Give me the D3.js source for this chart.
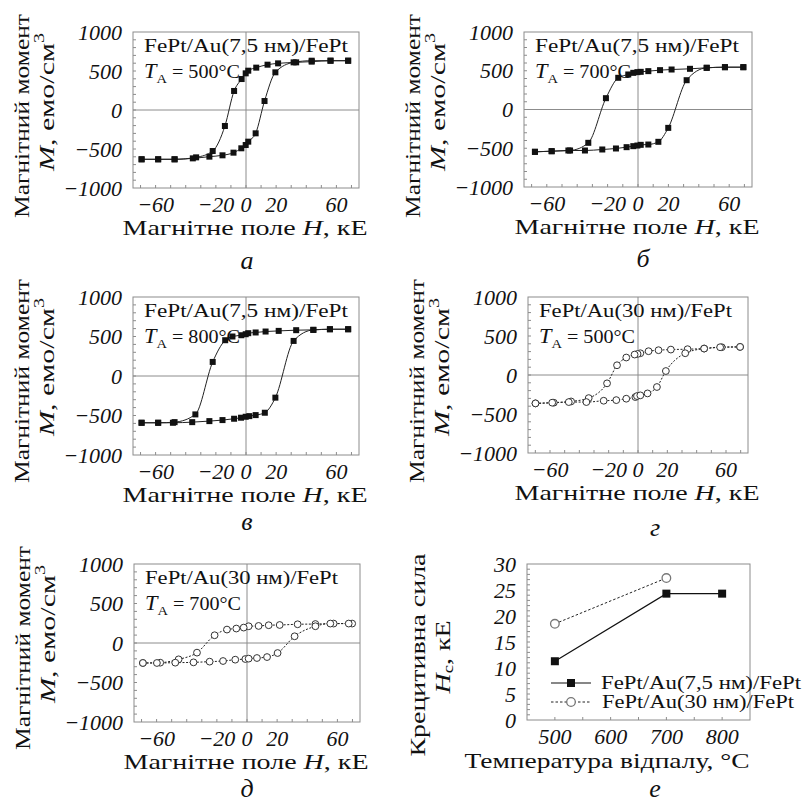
<!DOCTYPE html>
<html>
<head>
<meta charset="utf-8">
<script src="https://cdn.jsdelivr.net/npm/d3@7"></script>
<style>
  body { margin: 0; background: #fff; }
  svg text { font-family: 'Liberation Serif', 'Times New Roman', serif; fill: #111; }
  .tick-label { font-style: italic; font-size: 22px; }
</style>
</head>
<body>
<svg id="viewBox" width="804" height="804"></svg>
<script>
'use strict'

// hysteresis loops: [H (kOe), M (emu/cm3)], descending and ascending branches
const loopA_down = [[67.8,632],[56.1,632],[43.6,620],[33.3,611],[21.3,598],[14.3,581],[6.8,543],[1.5,504],[-0.2,470],[-2.9,397],[-7.9,244],[-14.0,-205],[-22.1,-526],[-33.1,-607],[-47.4,-632],[-58.3,-632],[-69.3,-632]]
const loopA_up = [[-69.3,-632],[-58.3,-632],[-47.4,-632],[-35.3,-620],[-24.3,-598],[-15.6,-581],[-8.3,-547],[-3.1,-491],[-0.2,-449],[1.5,-406],[6.4,-299],[12.3,115],[19.5,483],[31.6,611],[43.6,632],[56.1,632],[67.8,632]]

const loopB_down = [[69.3,546],[57.2,546],[45.2,538],[34.2,525],[22.1,516],[14.5,508],[6.8,495],[1.8,486],[-0.4,482],[-3.1,473],[-6.4,452],[-13.0,409],[-21.1,146],[-32.7,-430],[-44.7,-529],[-56.8,-538],[-67.8,-546]]
const loopB_up = [[-67.8,-546],[-56.8,-538],[-45.8,-529],[-34.9,-529],[-23.5,-516],[-14.5,-503],[-7.5,-486],[-3.1,-473],[-0.4,-465],[1.8,-456],[6.8,-452],[13.4,-417],[19.9,-237],[32.0,378],[45.2,538],[57.2,546],[69.3,546]]

const loopC_down = [[67.8,592],[55.7,592],[44.7,584],[33.3,580],[21.7,571],[13.0,563],[6.4,551],[1.5,542],[-0.2,529],[-3.1,516],[-9.0,500],[-13.8,453],[-22.1,178],[-33.6,-486],[-47.4,-584],[-58.3,-592],[-69.3,-592]]
const loopC_up = [[-69.3,-592],[-58.3,-592],[-48.5,-592],[-35.7,-584],[-24.3,-571],[-15.6,-558],[-7.9,-541],[-3.3,-528],[-0.2,-516],[2.2,-508],[6.4,-495],[12.5,-465],[19.5,-274],[31.6,444],[44.7,584],[55.7,592],[67.8,592]]

const loopD_down = [[69.6,360],[57.1,356],[45.1,339],[33.8,331],[22.4,326],[14.0,318],[7.2,305],[1.6,279],[-0.3,270],[-2.3,262],[-8.0,224],[-14.3,125],[-21.1,-107],[-33.6,-296],[-45.6,-339],[-57.4,-355],[-69.9,-364]]
const loopD_up = [[-69.9,-364],[-58.5,-355],[-47.2,-347],[-35.2,-347],[-23.4,-330],[-14.8,-322],[-8.0,-304],[-1.8,-283],[-0.7,-270],[1.6,-261],[6.5,-236],[12.9,-154],[19.0,51],[32.2,279],[45.1,339],[56.0,356],[69.6,360]]

const loopE_down = [[69.8,246],[57.5,246],[45.4,240],[33.6,237],[21.7,228],[14.4,225],[7.7,216],[1.1,212],[-2.2,195],[-7.1,183],[-13.3,170],[-21.5,98],[-33.2,-122],[-45.4,-207],[-57.6,-249],[-69.1,-253]]
const loopE_up = [[-69.1,-253],[-59.8,-253],[-47.6,-249],[-35.5,-245],[-24.8,-236],[-15.9,-228],[-7.8,-211],[-1.1,-203],[1.1,-198],[6.6,-190],[13.3,-178],[20.3,-127],[31.6,85],[45.4,212],[55.3,246],[67.5,246]]

// coercivity vs annealing temperature
const annealTemps = [500, 700, 800]
const hc75 = [11.3, 24.3, 24.3]
const hc30 = [18.5, 27.3]

const hTicks = [-60, -20, 0, 20, 60]
const mTicks = [-1000, -500, 0, 500, 1000]
const tTicks = [500, 600, 700, 800]
const hcTicks = [0, 5, 10, 15, 20, 25, 30]

const svg = d3.select("#viewBox")
svg.append("rect").attr("width", 804).attr("height", 804).attr("fill", "#fff")

const frameColor = "#8c8c8c"

// stretch a text to the width measured on the reference
const fit = (sel, len) => sel.attr("textLength", len).attr("lengthAdjust", "spacingAndGlyphs")

const drawFrame = (g, w, h) => {
    g.append("rect")
        .attr("width", w).attr("height", h)
        .attr("fill", "none")
        .attr("stroke", frameColor)
        .attr("stroke-width", 1)
}

const minorTicks = (g, xs, ys, xVals, yVals, h) => {
    g.append("g").selectAll("line")
        .data(xVals)
        .join("line")
        .attr("x1", d => xs(d)).attr("x2", d => xs(d))
        .attr("y1", h).attr("y2", h - 3)
        .attr("stroke", frameColor)
    g.append("g").selectAll("line")
        .data(yVals)
        .join("line")
        .attr("x1", 0).attr("x2", 3)
        .attr("y1", d => ys(d)).attr("y2", d => ys(d))
        .attr("stroke", frameColor)
}

const yTitle = (x, y, line1, line2) => {
    svg.append("text")
        .attr("transform", `translate(${x},${y}) rotate(-90)`)
        .attr("text-anchor", "middle")
        .attr("dominant-baseline", "central")
        .attr("font-size", 21)
        .text(line1)
        .call(fit, 204)
    const t = svg.append("text")
        .attr("transform", `translate(${x + 25},${y - 14}) rotate(-90)`)
        .attr("text-anchor", "middle")
        .attr("dominant-baseline", "central")
        .attr("font-size", 21)
    line2(t)
    fit(t, 138)
}

const panelLetter = (x, y, s) => {
    svg.append("text")
        .attr("x", x).attr("y", y)
        .attr("text-anchor", "middle")
        .attr("dominant-baseline", "central")
        .attr("font-style", "italic")
        .attr("font-size", 26)
        .text(s)
}

const loopPanel = (p) => {
    const g = svg.append("g").attr("transform", `translate(${p.x},${p.y})`)
    const xs = d3.scaleLinear().domain([-75, 75]).range([0, p.w])
    const ys = d3.scaleLinear().domain([-1000, 1000]).range([p.h, 0])

    drawFrame(g, p.w, p.h)
    g.append("line")
        .attr("x1", xs(0)).attr("x2", xs(0)).attr("y1", 0).attr("y2", p.h)
        .attr("stroke", frameColor)
    g.append("line")
        .attr("x1", 0).attr("x2", p.w).attr("y1", ys(0)).attr("y2", ys(0))
        .attr("stroke", frameColor)
    minorTicks(g, xs, ys, d3.range(-70, 71, 10), d3.range(-900, 901, 100), p.h)

    g.append("g").selectAll("text")
        .data(hTicks)
        .join("text")
        .attr("class", "tick-label")
        .attr("x", d => xs(d))
        .attr("y", p.h + 16)
        .attr("text-anchor", "middle")
        .attr("dominant-baseline", "central")
        .text(d => d3.format("")(d))
    g.append("g").selectAll("text")
        .data(mTicks)
        .join("text")
        .attr("class", "tick-label")
        .attr("x", -11)
        .attr("y", d => ys(d))
        .attr("text-anchor", "end")
        .attr("dominant-baseline", "central")
        .text(d => d3.format("")(d))

    const line = d3.line()
        .x(d => xs(d[0]))
        .y(d => ys(d[1]))
        .curve(d3.curveMonotoneX)

    ;[p.down, p.up].forEach(branch => {
        const sorted = branch.slice().sort((a, b) => a[0] - b[0])
        g.append("path")
            .datum(sorted)
            .attr("d", line)
            .attr("fill", "none")
            .attr("stroke", "#222")
            .attr("stroke-width", 1)
            .attr("stroke-dasharray", p.open ? "2,1.6" : null)
    })

    const pts = p.down.concat(p.up)
    if (p.open) {
        g.append("g").selectAll("circle")
            .data(pts)
            .join("circle")
            .attr("cx", d => xs(d[0]))
            .attr("cy", d => ys(d[1]))
            .attr("r", 3.4)
            .attr("fill", "#fff")
            .attr("stroke", "#333")
            .attr("stroke-width", 1)
    } else {
        g.append("g").selectAll("rect")
            .data(pts)
            .join("rect")
            .attr("x", d => xs(d[0]) - 3)
            .attr("y", d => ys(d[1]) - 3)
            .attr("width", 6)
            .attr("height", 6)
            .attr("fill", "#111")
    }

    g.append("text")
        .attr("x", 11).attr("y", 20)
        .attr("font-size", 18)
        .text(p.label)
        .call(fit, p.labelW)
    const ta = g.append("text")
        .attr("x", 11).attr("y", 46)
        .attr("font-size", 18)
    ta.append("tspan").attr("font-style", "italic").attr("font-size", 20).text("T")
    ta.append("tspan").attr("font-size", 13).attr("dy", 5).text("A")
    ta.append("tspan").attr("dy", -5).text(` = ${p.temp}°C`)
    fit(ta, 96)

    svg.append("text")
        .attr("x", p.x + p.w / 2 - 1)
        .attr("y", p.y + p.h + 40)
        .attr("text-anchor", "middle")
        .attr("dominant-baseline", "central")
        .attr("font-size", 21)
        .call(t => {
            t.append("tspan").text("Магнітне поле ")
            t.append("tspan").attr("font-style", "italic").text("H")
            t.append("tspan").text(", кЕ")
        })
        .call(fit, 245)

    yTitle(p.x - 111, p.y + 84, "Магнітний момент", t => {
        t.append("tspan").attr("font-style", "italic").text("M")
        t.append("tspan").text(", емо/см")
        t.append("tspan").attr("font-size", 14).attr("dy", -8).text("3")
    })
    panelLetter(p.letterX, p.letterY, p.letter)
}

const panels = [
    { x: 133, y: 32, w: 226, h: 156, down: loopA_down, up: loopA_up, open: false,
      label: "FePt/Au(7,5 нм)/FePt", labelW: 204, temp: "500", letter: "а", letterX: 247, letterY: 260 },
    { x: 524, y: 32, w: 228, h: 155, down: loopB_down, up: loopB_up, open: false,
      label: "FePt/Au(7,5 нм)/FePt", labelW: 204, temp: "700", letter: "б", letterX: 643, letterY: 258 },
    { x: 133, y: 297, w: 226, h: 158, down: loopC_down, up: loopC_up, open: false,
      label: "FePt/Au(7,5 нм)/FePt", labelW: 204, temp: "800", letter: "в", letterX: 247, letterY: 521 },
    { x: 528, y: 297, w: 220, h: 156, down: loopD_down, up: loopD_up, open: true,
      label: "FePt/Au(30 нм)/FePt", labelW: 193, temp: "500", letter: "г", letterX: 655, letterY: 527 },
    { x: 134, y: 564, w: 226, h: 158, down: loopE_down, up: loopE_up, open: true,
      label: "FePt/Au(30 нм)/FePt", labelW: 193, temp: "700", letter: "д", letterX: 247, letterY: 788 }
]
panels.forEach(loopPanel)

// panel е: coercivity
const hcPanel = () => {
    const p = { x: 527, y: 564, w: 223, h: 156 }
    const g = svg.append("g").attr("transform", `translate(${p.x},${p.y})`)
    const xs = d3.scaleLinear().domain([450, 850]).range([0, p.w])
    const ys = d3.scaleLinear().domain([0, 30]).range([p.h, 0])

    drawFrame(g, p.w, p.h)
    minorTicks(g, xs, ys, d3.range(500, 801, 50), d3.range(1, 30, 1), p.h)

    g.append("g").selectAll("text")
        .data(tTicks)
        .join("text")
        .attr("class", "tick-label")
        .attr("x", d => xs(d))
        .attr("y", p.h + 16)
        .attr("text-anchor", "middle")
        .attr("dominant-baseline", "central")
        .text(d => d)
    g.append("g").selectAll("text")
        .data(hcTicks)
        .join("text")
        .attr("class", "tick-label")
        .attr("x", -11)
        .attr("y", d => ys(d))
        .attr("text-anchor", "end")
        .attr("dominant-baseline", "central")
        .text(d => d)

    const s75 = annealTemps.map((t, i) => [t, hc75[i]])
    const s30 = hc30.map((v, i) => [annealTemps[i], v])
    const line = d3.line().x(d => xs(d[0])).y(d => ys(d[1]))

    g.append("path").datum(s75).attr("d", line)
        .attr("fill", "none").attr("stroke", "#111").attr("stroke-width", 1.2)
    g.append("path").datum(s30).attr("d", line)
        .attr("fill", "none").attr("stroke", "#222").attr("stroke-width", 1)
        .attr("stroke-dasharray", "2.5,2")
    g.append("g").selectAll("rect")
        .data(s75)
        .join("rect")
        .attr("x", d => xs(d[0]) - 4).attr("y", d => ys(d[1]) - 4)
        .attr("width", 8).attr("height", 8).attr("fill", "#111")
    g.append("g").selectAll("circle")
        .data(s30)
        .join("circle")
        .attr("cx", d => xs(d[0])).attr("cy", d => ys(d[1]))
        .attr("r", 4.3).attr("fill", "#fff").attr("stroke", "#777").attr("stroke-width", 1.3)

    // legend
    const lg = svg.append("g")
    lg.append("line").attr("x1", 551).attr("x2", 591).attr("y1", 683).attr("y2", 683)
        .attr("stroke", "#111").attr("stroke-width", 1.2)
    lg.append("rect").attr("x", 567).attr("y", 679).attr("width", 8).attr("height", 8).attr("fill", "#111")
    lg.append("line").attr("x1", 551).attr("x2", 591).attr("y1", 702).attr("y2", 702)
        .attr("stroke", "#222").attr("stroke-dasharray", "2.5,2")
    lg.append("circle").attr("cx", 571).attr("cy", 702).attr("r", 4.3)
        .attr("fill", "#fff").attr("stroke", "#777").attr("stroke-width", 1.3)
    lg.append("text").attr("x", 601).attr("y", 683).attr("dominant-baseline", "central")
        .attr("font-size", 18).text("FePt/Au(7,5 нм)/FePt").call(fit, 200)
    lg.append("text").attr("x", 602).attr("y", 702).attr("dominant-baseline", "central")
        .attr("font-size", 18).text("FePt/Au(30 нм)/FePt").call(fit, 192)

    svg.append("text")
        .attr("x", 607).attr("y", 761)
        .attr("text-anchor", "middle")
        .attr("dominant-baseline", "central")
        .attr("font-size", 21)
        .text("Температура відпалу, °C")
        .call(fit, 285)

    svg.append("text")
        .attr("transform", "translate(418,655) rotate(-90)")
        .attr("text-anchor", "middle")
        .attr("dominant-baseline", "central")
        .attr("font-size", 21)
        .text("Крецитивна сила")
        .call(fit, 203)
    svg.append("text")
        .attr("transform", "translate(443,657) rotate(-90)")
        .attr("text-anchor", "middle")
        .attr("dominant-baseline", "central")
        .attr("font-size", 21)
        .call(t => {
            t.append("tspan").attr("font-style", "italic").text("H")
            t.append("tspan").attr("font-size", 14).attr("dy", 5).text("c")
            t.append("tspan").attr("dy", -5).text(", кЕ")
        })
        .call(fit, 73)

    panelLetter(655, 788, "е")
}
hcPanel()
</script>
</body>
</html>
